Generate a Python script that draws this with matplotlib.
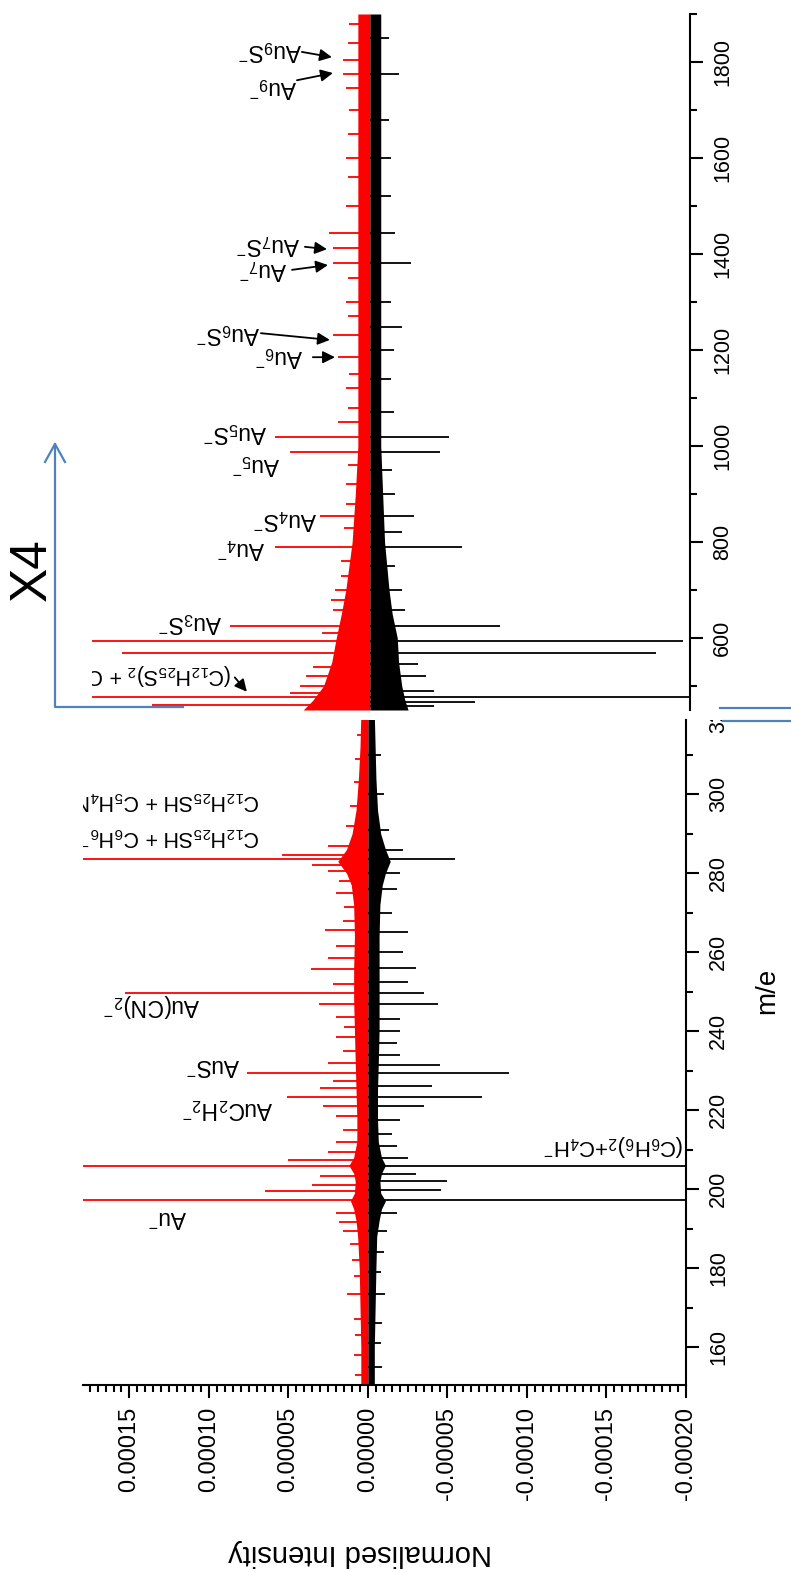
import numpy as np
import matplotlib
matplotlib.use('Agg')
import matplotlib.pyplot as plt
from matplotlib.ticker import MultipleLocator, AutoMinorLocator, FuncFormatter
from matplotlib.lines import Line2D
from matplotlib.transforms import Bbox, blended_transform_factory

plt.rcParams['font.family'] = ['Liberation Sans', 'DejaVu Sans']
plt.rcParams['mathtext.fontset'] = 'custom'
plt.rcParams['mathtext.rm'] = 'Liberation Sans'
plt.rcParams['mathtext.it'] = 'Liberation Sans:italic'
plt.rcParams['mathtext.bf'] = 'Liberation Sans:bold'
plt.rcParams['axes.unicode_minus'] = False

U = 1e-5          # all intensities below are in units of 1e-5
HI_SCALE = 4      # upper panel is shown X4

# ---- low mass panel (m/e 150-320) ----
lo_env_mz = [150, 160, 170, 180, 188, 192, 195, 197, 199, 202, 204, 206, 208, 212, 218, 225,
             232, 240, 248, 256, 264, 272, 277, 280, 283, 286, 290, 296, 304, 312, 320]
lo_red_env = [0.45, 0.45, 0.5, 0.55, 0.65, 0.75, 0.9, 1.1, 0.85, 0.8, 0.9, 1.2, 0.9, 0.7, 0.7, 0.75,
              0.8, 0.85, 0.9, 0.9, 0.85, 0.9, 1.05, 1.35, 1.9, 1.35, 1.0, 0.75, 0.6, 0.5, 0.45]
lo_blk_env = [0.4, 0.4, 0.45, 0.5, 0.55, 0.7, 0.85, 1.1, 0.8, 0.75, 0.85, 1.1, 0.85, 0.65, 0.6, 0.6,
              0.65, 0.7, 0.7, 0.7, 0.7, 0.75, 0.9, 1.1, 1.4, 1.1, 0.8, 0.6, 0.5, 0.45, 0.4]

lo_red_mz = [153, 158, 163, 167, 173.5, 178, 182, 186, 189.5, 191.6, 194, 197.2, 199.5, 201, 203.2,
             205.8, 207.4, 209.5, 212, 215, 218.5, 221, 223.3, 225.5, 227.5, 229.4, 232, 235, 238.5,
             241, 243.5, 247, 249.6, 252, 255.7, 258.5, 261.5, 265.6, 268, 271.5, 275, 278, 280.5,
             282.2, 283.5, 284.6, 287, 292, 297, 303, 309, 315]
lo_red_int = [0.8, 0.9, 0.8, 0.9, 1.3, 0.9, 1.0, 1.1, 1.6, 1.8, 2.0, 30, 6.5, 3.5, 3.0,
              30, 5.0, 2.5, 2.0, 1.6, 2.0, 2.8, 5.1, 3.0, 2.2, 7.6, 2.5, 1.6, 2.0,
              1.5, 2.0, 3.1, 15.3, 2.2, 3.6, 2.5, 2.0, 2.7, 1.6, 1.5, 2.0, 1.8, 2.5,
              3.5, 30, 5.4, 2.5, 1.4, 1.1, 0.9, 0.8, 0.7]
lo_blk_mz = [155, 161, 166, 173.5, 179, 184, 189.5, 194, 197.2, 199.7, 202, 203.8, 205.8, 208, 211,
             214, 217.5, 221, 223.3, 226, 229.4, 231.5, 234, 237, 240, 243, 247, 249.6, 252.5, 256,
             260, 265, 270, 276, 280, 283.5, 286, 291, 300, 310]
lo_blk_int = [0.9, 0.8, 0.9, 1.1, 0.8, 1.0, 1.2, 1.8, 30, 4.6, 5.0, 3.0, 30, 2.5, 1.8,
              1.5, 2.0, 3.5, 7.2, 4.0, 8.9, 4.5, 2.0, 1.8, 2.0, 2.0, 4.4, 3.5, 2.5, 3.0,
              2.2, 2.5, 1.5, 1.8, 2.0, 5.5, 2.2, 1.3, 1.0, 0.8]

# ---- high mass panel (m/e 450-1900), true intensities ----
hi_env_mz = [450, 470, 500, 550, 600, 650, 700, 800, 900, 1000, 1200, 1400, 1600, 1900]
hi_red_env = [1.05, 0.90, 0.73, 0.60, 0.53, 0.45, 0.38, 0.28, 0.23, 0.19, 0.19, 0.19, 0.19, 0.19]
hi_blk_env = [0.60, 0.55, 0.50, 0.45, 0.43, 0.35, 0.30, 0.23, 0.20, 0.17, 0.17, 0.17, 0.17, 0.17]

hi_red_mz = [460, 477, 486, 500, 520, 540, 568, 594, 610, 625, 658, 680, 700, 730, 760, 790, 830,
             854, 880, 920, 960, 987, 1019, 1050, 1080, 1120, 1150, 1185, 1231, 1270, 1300, 1350,
             1381, 1412, 1444, 1500, 1560, 1600, 1650, 1700, 1745, 1775, 1804, 1840, 1880]
hi_red_int = [3.43, 7.5, 1.25, 1.1, 1.0, 0.9, 3.9, 7.5, 0.75, 2.2, 0.58, 0.62, 0.55, 0.45, 0.45, 1.5, 0.4,
              0.78, 0.38, 0.38, 0.35, 1.25, 1.5, 0.5, 0.35, 0.38, 0.33, 0.5, 0.58, 0.35, 0.38, 0.35,
              0.58, 0.58, 0.65, 0.38, 0.35, 0.38, 0.35, 0.33, 0.38, 0.43, 0.43, 0.35, 0.33]
hi_blk_mz = [458, 467, 477, 490, 520, 545, 568, 594, 625, 658, 700, 750, 790, 820, 854, 900, 950,
             987, 1019, 1070, 1140, 1200, 1248, 1300, 1381, 1444, 1520, 1600, 1680, 1775, 1850]
hi_blk_int = [1.0, 1.65, 7.5, 1.0, 0.88, 0.75, 4.5, 4.93, 2.05, 0.55, 0.5, 0.4, 1.45, 0.5, 0.7, 0.4, 0.35,
              1.1, 1.25, 0.38, 0.33, 0.38, 0.5, 0.33, 0.65, 0.4, 0.33, 0.33, 0.3, 0.45, 0.3]

W, H = 791., 1572.


def px_rect(l, t, r, b):
    return [l / W, 1 - b / H, (r - l) / W, (b - t) / H]


def draw_trace(ax, env_mz, red_env, blk_env, red_mz, red_int, blk_mz, blk_int, k=1):
    ax.fill_betweenx(env_mz, 0, np.array(red_env) * U * k, color='red', lw=0)
    ax.fill_betweenx(env_mz, 0, -np.array(blk_env) * U * k, color='black', lw=0)
    ax.hlines(red_mz, 0, np.array(red_int) * U * k, colors='red', lw=1.3)
    ax.hlines(blk_mz, 0, -np.array(blk_int) * U * k, colors='black', lw=1.3)


fig = plt.figure(figsize=(7.91, 15.72), dpi=100)
ax_lo = fig.add_axes(px_rect(83, 720, 686, 1385))
ax_hi = fig.add_axes(px_rect(92, 14, 690, 710))

draw_trace(ax_lo, lo_env_mz, lo_red_env, lo_blk_env, lo_red_mz, lo_red_int, lo_blk_mz, lo_blk_int)
draw_trace(ax_hi, hi_env_mz, hi_red_env, hi_blk_env, hi_red_mz, hi_red_int, hi_blk_mz, hi_blk_int,
           k=HI_SCALE)

ax_lo.set_xlim(17.92 * U, -20.0 * U)
ax_hi.set_xlim(17.48 * U, -20.13 * U)
ax_lo.set_ylim(150.4, 318.8)
ax_hi.set_ylim(450, 1900)

for ax in (ax_lo, ax_hi):
    ax.spines['left'].set_visible(False)
    ax.spines['top'].set_visible(False)
    ax.spines['right'].set_linewidth(1.5)
    ax.yaxis.tick_right()
    ax.tick_params(axis='y', which='major', direction='out', length=9, width=1.5,
                   labelsize=15.5, labelrotation=90, pad=6.8)
    ax.tick_params(axis='y', which='minor', direction='out', length=5, width=1.5)

ax_lo.set_yticks(np.arange(160, 301, 20))
ax_lo.yaxis.set_minor_locator(MultipleLocator(10))
ax_hi.set_yticks(np.arange(600, 1801, 200))
ax_hi.yaxis.set_minor_locator(MultipleLocator(100))
for ax in (ax_lo, ax_hi):
    plt.setp(ax.get_yticklabels(), va='center')

ax_lo.spines['bottom'].set_linewidth(1.5)
ax_lo.set_xticks(np.arange(-20, 16, 5) * U)
ax_lo.xaxis.set_minor_locator(AutoMinorLocator(10))
ax_lo.xaxis.set_major_formatter(FuncFormatter(lambda v, p: '%.5f' % (0.0 if abs(v) < 1e-12 else v)))
ax_lo.tick_params(axis='x', which='major', direction='out', length=9, width=1.5,
                  labelsize=17, labelrotation=90, pad=6.8)
ax_lo.tick_params(axis='x', which='minor', direction='out', length=5, width=1.5)

ax_hi.spines['bottom'].set_visible(False)
ax_hi.tick_params(axis='x', which='both', bottom=False, labelbottom=False)

# cut-off "320" label under the upper panel
trans = blended_transform_factory(ax_lo.transAxes, ax_lo.transData)
t320 = ax_lo.text(1.0 + 22 / 603, 320, '320', transform=trans, rotation=90, ha='left', va='center',
                  fontsize=15.5)
t320.set_clip_box(Bbox([[0, 0], [W, H - 720]]))
t320.set_clip_on(True)

# peak labels (text drawn upside down), x = right edge of text in units of 1e-5
lo_labels = [
    (r'Au$^{-}$', 11.38, 192.7, 16.5),
    (r'AuC$_2$H$_2$$^{-}$', 5.98, 220.5, 16.5),
    (r'AuS$^{-}$', 8.05, 231.4, 16.5),
    (r'Au(CN)$_2$$^{-}$', 10.57, 246.6, 16.5),
    (r'C$_{12}$H$_{25}$SH + C$_6$H$_6$$^{-}$', 6.79, 289.4, 15.5),
    (r'C$_{12}$H$_{25}$SH + C$_5$H$_4$N', 6.79, 298.5, 15.5),
    (r'(C$_6$H$_6$)$_2$+C$_4$H$^{-}$', -19.88, 211.1, 16),
]
for txt, xr, mz, fs in lo_labels:
    ax_lo.text(xr * U, mz, txt, rotation=180, ha='right', va='center', fontsize=fs, clip_on=True)

hi_labels = [
    (r'(C$_{12}$H$_{25}$S)$_2$ + C$_6$H$_6$$^{-}$', 8.68, 523, 15.5),
    (r'Au$_3$S$^{-}$', 9.31, 633, 16.5),
    (r'Au$_4$$^{-}$', 6.6, 787.5, 16.5),
    (r'Au$_4$S$^{-}$', 3.33, 848, 16.5),
    (r'Au$_5$$^{-}$', 5.66, 962.5, 16.5),
    (r'Au$_5$S$^{-}$', 6.48, 1029, 16.5),
    (r'Au$_6$$^{-}$', 4.21, 1187.5, 16.5),
    (r'Au$_6$S$^{-}$', 6.92, 1235, 16.5),
    (r'Au$_7$$^{-}$', 5.22, 1367, 16.5),
    (r'Au$_7$S$^{-}$', 4.4, 1419, 16.5),
    (r'Au$_9$$^{-}$', 4.59, 1748, 16.5),
    (r'Au$_9$S$^{-}$', 4.28, 1825, 16.5),
]
for txt, xr, mz, fs in hi_labels:
    ax_hi.text(xr * U, mz, txt, rotation=180, ha='right', va='center', fontsize=fs, clip_on=True)

# arrows: (head x, head m/e, tail x, tail m/e)
hi_arrows = [
    (7.74, 488, 8.5, 518),
    (2.2, 1185, 3.59, 1185),
    (2.52, 1221, 6.86, 1235),
    (2.64, 1377, 4.9, 1367),
    (2.7, 1410, 4.09, 1415),
    (2.33, 1777, 4.59, 1762),
    (2.39, 1810, 4.28, 1821),
]
for hx, hy, tx, ty in hi_arrows:
    ax_hi.annotate('', xy=(hx * U, hy), xytext=(tx * U, ty),
                   arrowprops=dict(arrowstyle='-|>', color='black', lw=1.3,
                                   mutation_scale=18, shrinkA=0, shrinkB=0))

fig.text(360 / W, 1 - 1553 / H, 'Normalised Intensity', rotation=180, ha='center', va='center',
         fontsize=21)
fig.text(767 / W, 1 - 991 / H, 'm/e', rotation=90, ha='center', va='center', fontsize=20)
fig.text(32 / W, 1 - 570 / H, 'X4', rotation=90, ha='center', va='center', fontsize=37)

blue = '#4F81BD'


def fig_line(xs, ys, **kw):
    fig.add_artist(Line2D([x / W for x in xs], [1 - y / H for y in ys],
                          transform=fig.transFigure, **kw))


fig_line([183, 55, 55], [707, 707, 444], color=blue, lw=1.6)
fig_line([45, 55, 65], [462, 444, 462], color=blue, lw=1.6)
fig_line([720, 791], [708, 708], color=blue, lw=1.6)
fig_line([723, 791], [721, 721], color=blue, lw=1.6)

fig.savefig('out.png', dpi=100)
